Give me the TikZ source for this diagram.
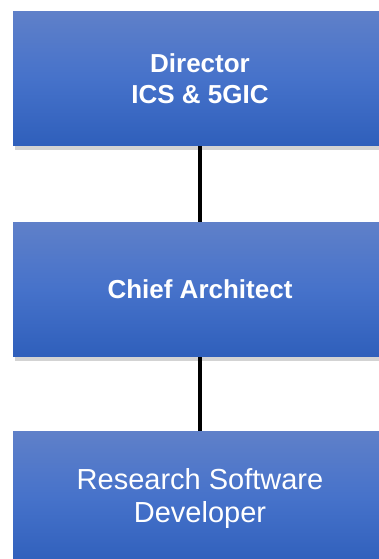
\documentclass[tikz,border=0pt]{standalone}
\usepackage{fontspec}
\setmainfont{Liberation Sans}
\usetikzlibrary{shadows}

\definecolor{roletop}{HTML}{5F80C9}
\definecolor{rolemid}{HTML}{4672CA}
\definecolor{rolebot}{HTML}{2F5FBB}

\tikzset{
    role/.style={rectangle, text=white, align=center,
        minimum width=7.48cm, minimum height=2.7cm,
        top color=roletop, bottom color=rolebot, middle color=rolemid,
        drop shadow={opacity=0.35, shadow xshift=1pt, shadow yshift=-2pt}},
    link/.style={line width=2.3pt, black}
}

\begin{document}
\begin{tikzpicture}[x=0.02cm, y=-0.02cm]
    % frame of the chart, boxes run off the right edge
    \path[use as bounding box, clip] (0,0) rectangle (379,559);

    % the three roles
    \node[role, font=\fontsize{14.8}{17.6}\selectfont\bfseries] (dir) at (200,78.5) {Director\\ICS \& 5GIC};
    \node[role, font=\fontsize{14.8}{17.6}\selectfont\bfseries] (chief) at (200,289.5) {Chief Architect};
    \node[role, font=\fontsize{16.5}{18.8}\selectfont] (dev) at (200,498.5) {Research Software\\Developer};

    % reporting lines
    \draw[link] (dir) -- (chief);
    \draw[link] (chief) -- (dev);
\end{tikzpicture}
\end{document}
